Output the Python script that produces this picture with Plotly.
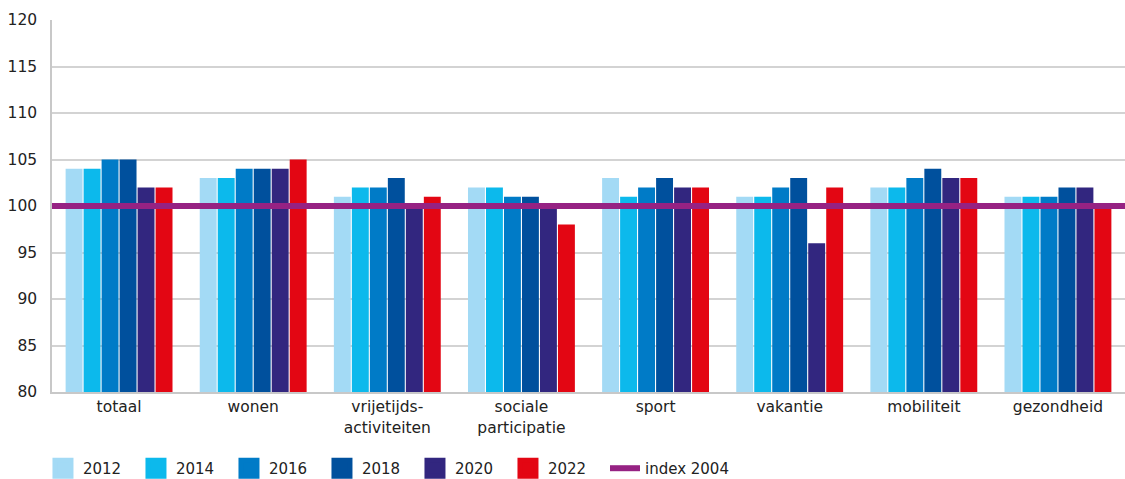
import plotly.graph_objects as go

categories = ["totaal", "wonen", "vrijetijds-<br>activiteiten", "sociale<br>participatie",
              "sport", "vakantie", "mobiliteit", "gezondheid"]
years = ["2012", "2014", "2016", "2018", "2020", "2022"]
v2012 = [104, 103, 101, 102, 103, 101, 102, 101]
v2014 = [104, 103, 102, 102, 101, 101, 102, 101]
v2016 = [105, 104, 102, 101, 102, 102, 103, 101]
v2018 = [105, 104, 103, 101, 103, 103, 104, 102]
v2020 = [102, 104, 100, 100, 102, 96, 103, 102]
v2022 = [102, 105, 101, 98, 102, 102, 103, 100]
index_level = 100
index_label = "index 2004"

series = [v2012, v2014, v2016, v2018, v2020, v2022]
colors = ["#A3DAF5", "#0CB9EC", "#007BC7", "#00509D", "#32267F", "#E30613"]

fig = go.Figure()
for i, (name, vals, col) in enumerate(zip(years, series, colors)):
    fig.add_trace(go.Bar(x=categories, y=[v - 80 for v in vals], base=80, name=name,
                         showlegend=False,
                         marker=dict(color=col, line=dict(width=0))))
    # legend swatch (square marker)
    fig.add_trace(go.Scatter(x=[None], y=[None], mode="markers", name=name,
                             legendwidth=52 if i == len(years) - 1 else 48,
                             marker=dict(symbol="square", size=16, color=col,
                                         line=dict(color=col, width=7))))

fig.add_trace(go.Scatter(x=[0, 1], y=[index_level, index_level], xaxis="x2", mode="lines",
                         name=index_label, legendwidth=95,
                         line=dict(color="#962283", width=6)))

font = "DejaVu Sans"
fig.update_layout(
    width=1125, height=479,
    margin=dict(l=52, r=0, t=20, b=87),
    paper_bgcolor="white", plot_bgcolor="white",
    barmode="group", bargap=0.195, bargroupgap=0.06,
    font=dict(family=font, size=15, color="#222222"),
    xaxis=dict(showgrid=False, ticks="", showline=True, linecolor="#c8c8c8", linewidth=1.5,
               tickfont=dict(size=15.5), automargin=False),
    xaxis2=dict(overlaying="x", range=[0, 1], visible=False, showgrid=False),
    yaxis=dict(range=[80, 120], dtick=5, showgrid=True, gridcolor="#d3d3d3", gridwidth=1.5,
               showline=True, linecolor="#c8c8c8", linewidth=1.5, ticks="",
               ticklabelstandoff=10,
               tickfont=dict(size=15.5), zeroline=False, automargin=False),
    legend=dict(orientation="h", xref="container", x=0.0382, xanchor="left",
                yref="container", y=0.022, yanchor="middle",
                font=dict(size=15, family=font),
                itemwidth=30, entrywidth=48, tracegroupgap=0,
                itemsizing="trace"),
    showlegend=True,
)
fig.write_html("out.html", post_script="document.body.style.margin='0';",
               config={"displayModeBar": False})
